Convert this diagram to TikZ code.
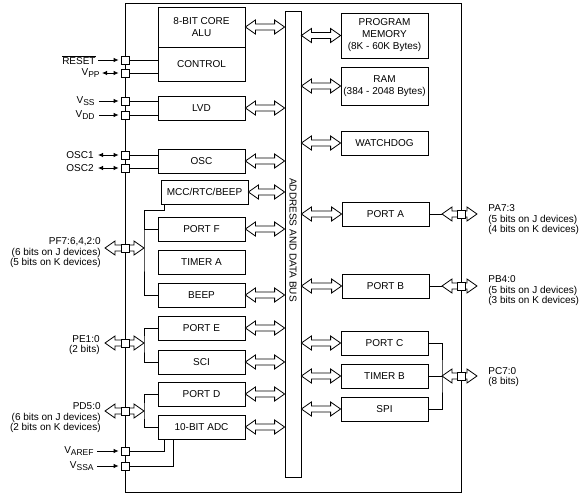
\documentclass[tikz,border=0pt]{standalone}
\usepackage{fontspec}
\setmainfont{Liberation Sans}
\usetikzlibrary{calc}
\usetikzlibrary{arrows.meta}
\newcommand{\dblarrow}[2]{%
  \coordinate (ha) at (#1);
  \coordinate (hb) at (#2);
  \draw[fill=white] (ha) -- ($(ha)+(10,-7)$) -- ($(ha)+(10,-3)$) -- ($(hb)+(-10,-3)$)
    -- ($(hb)+(-10,-7)$) -- (hb) -- ($(hb)+(-10,7)$) -- ($(hb)+(-10,3)$)
    -- ($(ha)+(10,3)$) -- ($(ha)+(10,7)$) -- cycle;}
\newcommand{\pinsub}[1]{\raisebox{-2pt}{\fontsize{8.5}{9}\selectfont #1}}
\tikzset{
  blk/.style={draw, fill=white, inner sep=0pt, minimum width=87pt, minimum height=24pt, align=center},
  pinbox/.style={draw, fill=white, inner sep=0pt, minimum size=8pt},
  lbl/.style={inner sep=0pt, font=\fontsize{10}{10.5}\selectfont}
}

\begin{document}
\begin{tikzpicture}[x=1pt,y=-1pt,line width=0.8pt,>={Latex[length=5pt,width=4.5pt]},font=\fontsize{10}{12}\selectfont]
\useasboundingbox (0,0) rectangle (584,500);
\draw (125,3) rectangle (461,492);

% left blocks
\node[blk,minimum height=40pt] (alu) at (201.5,27) {8-BIT CORE\\ALU};
\node[blk,minimum height=34pt] (ctrl) at (201.5,64) {CONTROL};
\node[blk] (lvd) at (201.5,108) {LVD};
\node[blk] (osc) at (201.5,161) {OSC};
\node[blk] (mcc) at (204.5,192) {MCC/RTC/BEEP};
\node[blk] (portf) at (201.5,229) {PORT F};
\node[blk] (timera) at (201.5,262) {TIMER A};
\node[blk] (beep) at (201.5,295) {BEEP};
\node[blk] (porte) at (201.5,328) {PORT E};
\node[blk] (sci) at (201.5,362) {SCI};
\node[blk] (portd) at (201.5,394) {PORT D};
\node[blk] (adc) at (201.5,427) {10-BIT ADC};

% bus
\node[draw,inner sep=0pt,minimum width=16pt,minimum height=466pt] (bus) at (293,244) {};
\node[rotate=-90,inner sep=0pt] (bustext) at (293,240) {ADDRESS AND DATA BUS};

% right blocks
\node[blk,minimum height=45pt] (pmem) at (384.5,35.5) {PROGRAM\\MEMORY\\(8K - 60K Bytes)};
\node[blk,minimum height=38pt] (ram) at (384.5,86) {RAM\\(384 - 2048 Bytes)};
\node[blk] (wdog) at (384.5,143) {WATCHDOG};
\node[blk] (porta) at (385.5,214) {PORT A};
\node[blk] (portb) at (385.5,286) {PORT B};
\node[blk] (portc) at (384.5,343) {PORT C};
\node[blk] (timerb) at (384.5,376) {TIMER B};
\node[blk] (spi) at (384.5,409) {SPI};

\foreach \b in {alu,lvd,osc,mcc,portf,beep,porte,sci,portd,adc}
  \dblarrow{\b.east}{bus.west |- \b.east};
\foreach \b in {pmem,ram,wdog,porta,portb,portc,timerb,spi}
  \dblarrow{bus.east |- \b.west}{\b.west};

% port joins
\coordinate (pfbus) at (144,248);
\coordinate (pebus) at (144,343);
\coordinate (pdbus) at (144,411);
\coordinate (pabus) at (442,214);
\coordinate (pbbus) at (442,286);
\coordinate (pcbus) at (442,376);
\draw ([xshift=4pt]mcc.south west) -- ++(0,6) -| (pfbus) |- (beep.west);
\draw (portf.west) -- (portf.west -| pfbus);
\draw (porte.west) -| (pebus) |- (sci.west);
\draw (portd.west) -| (pdbus) |- (adc.west);
\draw (porta.east) -- (pabus);
\draw (portb.east) -- (pbbus);
\draw (portc.east) -| (pcbus) |- (spi.east);
\draw (timerb.east) -- (pcbus);
\dblarrow{105,248}{pfbus};
\dblarrow{105,343}{pebus};
\dblarrow{105,411}{pdbus};
\dblarrow{pabus}{477,214};
\dblarrow{pbbus}{477,286};
\dblarrow{pcbus}{477,376};

% pins
\foreach \p/\y in {reset/60,vpp/73,vss/101,vdd/115,osc1/155,osc2/168,pf/248,pe/343,pd/411,varef/451,vssa/466}
  \node[pinbox] (\p) at (125,\y) {};
\foreach \p/\y in {pa/214,pb/286,pc/376}
  \node[pinbox] (\p) at (461,\y) {};
\foreach \p/\b in {reset/ctrl,vpp/ctrl,vss/lvd,vdd/lvd,osc1/osc,osc2/osc}
  \draw (\p.east) -- (\p.east -| \b.west);
\draw (varef.east) -| ([xshift=7pt]adc.south west);
\draw (vssa.east) -| ([xshift=16pt]adc.south west);

% pin names
\node[lbl,anchor=east] (lreset) at (96,60) {$\overline{\mbox{RESET}}$};
\node[lbl,anchor=east] (lvpp) at (100,73) {V\pinsub{PP}};
\node[lbl,anchor=east] (lvss) at (95,101) {V\pinsub{SS}};
\node[lbl,anchor=east] (lvdd) at (95,115) {V\pinsub{DD}};
\node[lbl,anchor=east] (losc1) at (94,155) {OSC1};
\node[lbl,anchor=east] (losc2) at (94,168) {OSC2};
\node[lbl,anchor=east] (lvaref) at (94,451) {V\pinsub{AREF}};
\node[lbl,anchor=east] (lvssa) at (94,466) {V\pinsub{SSA}};
\draw[->] ([xshift=2pt]lreset.east) -- ([xshift=-2pt]reset.west);
\draw[<->] ([xshift=2pt]lvpp.east) -- ([xshift=-2pt]vpp.west);
\draw[->] ([xshift=4pt]lvss.east) -- ([xshift=-2pt]vss.west);
\draw[->] ([xshift=4pt]lvdd.east) -- ([xshift=-2pt]vdd.west);
\draw[<->] ([xshift=4pt]losc1.east) -- ([xshift=-2pt]osc1.west);
\draw[<->] ([xshift=4pt]losc2.east) -- ([xshift=-2pt]osc2.west);
\draw[->] ([xshift=3pt]lvaref.east) -- ([xshift=-2pt]varef.west);
\draw[->] ([xshift=3pt]lvssa.east) -- ([xshift=-2pt]vssa.west);

\node[lbl,anchor=east,align=right] (lpf) at (101,253) {PF7:6,4,2:0\\(6 bits on J devices)\\(5 bits on K devices)};
\node[lbl,anchor=east,align=right] (lpe) at (100,345) {PE1:0\\(2 bits)};
\node[lbl,anchor=east,align=right] (lpd) at (101,418) {PD5:0\\(6 bits on J devices)\\(2 bits on K devices)};
\node[lbl,anchor=west,align=left] (lpa) at (488,220) {PA7:3\\(5 bits on J devices)\\(4 bits on K devices)};
\node[lbl,anchor=west,align=left] (lpb) at (488,291) {PB4:0\\(5 bits on J devices)\\(3 bits on K devices)};
\node[lbl,anchor=west,align=left] (lpc) at (488,377) {PC7:0\\(8 bits)};
\end{tikzpicture}
\end{document}
